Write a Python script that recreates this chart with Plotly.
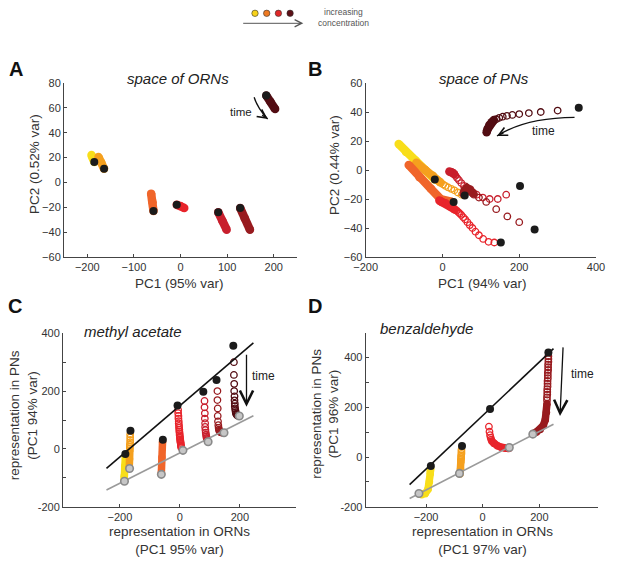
import plotly.graph_objects as go

FONT = "Liberation Sans, Arial, sans-serif"

# concentration colours, low -> high
YEL = "#F8DE1A"
ORA = "#F5A01E"
DOR = "#F0652A"
RED = "#E8242B"
CRM = "#C81F2D"
DRD = "#981B1F"
MAR = "#520C12"
legend_colors = ["#F7D21A", "#EE7A22", "#E02827", "#5C1016"]

# ---------- A: space of ORNs (PC1 vs PC2) ----------
a_yel_x = [-185, -188, -191]
a_yel_y = [16.5, 19.5, 22]
a_ora_x = [-164, -170, -176]
a_ora_y = [11, 16, 20.5]
a_dor_x = [-58, -60, -63]
a_dor_y = [-23, -16, -9]
a_red_x = [-8, 0, 8]
a_red_y = [-18, -19, -20.5]
a_crm_x = [81, 90, 99]
a_crm_y = [-24, -31, -38]
a_drd_x = [128, 138, 149]
a_drd_y = [-20.5, -29, -38]
a_mar_x = [184, 193, 203]
a_mar_y = [70, 65, 59]
a_start_x = [-185, -164, -58, -8, 81, 128, 184]
a_start_y = [16.5, 11, -23, -18, -24, -20.5, 70]

# ---------- B: space of PNs (PC1 vs PC2) ----------
b_yel_x = [-20, -45, -70, -95, -114]
b_yel_y = [-6.5, 0, 6.5, 12.5, 18]
b_ora_ring_x = [50, 40, 31, 23, 15, 8, 2, -4]
b_ora_ring_y = [-17, -15.5, -14, -13, -12, -11, -10, -9]
b_ora_x = [-6, -25, -45, -68]
b_ora_y = [-8.5, -4, 0, 5]
b_dor_x = [25, 10, -5, -30, -60, -88]
b_dor_y = [-22, -21.5, -20, -13, -5, 3.5]
b_red_ring_x = [135, 120, 106, 95, 86, 78, 71, 65, 59, 54, 49, 45, 41, 37, 33]
b_red_ring_y = [-50, -49.5, -47.5, -45, -42.5, -40, -38, -36, -34, -32.5, -31, -30, -29, -28, -27.5]
b_red_x = [31, 20, 8, -2, -8]
b_red_y = [-27, -25, -23, -22, -21]
b_crm_ring_x = [166, 144, 123, 105, 89, 76, 65, 56, 49, 43, 38, 34, 31]
b_crm_ring_y = [-17, -20, -20, -19, -17, -15, -13, -11, -9, -7, -5.5, -4, -3]
b_crm_x = [30, 24, 18]
b_crm_y = [-2.5, -1.5, -1]
b_drd_ring_x = [200, 169, 140, 114, 95, 82]
b_drd_ring_y = [-36, -32, -27, -22, -19, -17]
b_drd_x = [80, 72, 64, 58, 55]
b_drd_y = [-16, -13.5, -12.5, -14, -16.5]
b_mar_ring_x = [300, 256, 225, 200, 182, 168, 157, 148, 140]
b_mar_ring_y = [41, 40, 39.3, 38.6, 38, 37.4, 36.8, 36, 35]
b_mar_x = [134, 128, 122, 118, 115]
b_mar_y = [34.5, 33, 31, 28.5, 26]
b_start_x = [-20, 58, 29, 152, 202, 240, 355]
b_start_y = [-6.5, -17.5, -22, -50, -11, -41, 43]

# ---------- C: methyl acetate, ORN PC1 vs PN PC1 ----------
c_yel_x = [-182, -184, -186, -186]
c_yel_y = [-24, -60, -95, -108]
c_ora_ring_x = [-166, -166, -166, -166, -167, -167, -167]
c_ora_ring_y = [50, 40, 31, 23, 15, 8, 2]
c_ora_x = [-167, -168, -169]
c_ora_y = [-4, -35, -64]
c_dor_x = [-58, -60, -62]
c_dor_y = [25, -30, -84]
c_red_ring_x = [-6, -6, -5, -5, -4, -4, -3, -3, -2, -2, -1, -1, 0, 0, 1, 1, 2, 2, 3, 3, 4, 4]
c_red_ring_y = [135, 124, 114, 105, 96, 88, 80, 73, 66, 60, 54, 48, 43, 38, 33, 29, 25, 21, 17, 13, 9, 5]
c_crm_ring_x = [82, 82, 83, 83, 84, 84, 85, 86, 87, 88, 89, 90, 91]
c_crm_ring_y = [166, 144, 123, 105, 89, 76, 65, 56, 49, 43, 38, 34, 30]
c_drd_ring_x = [125, 125, 126, 126, 127, 128, 129, 130, 131, 133, 135, 138, 141]
c_drd_ring_y = [200, 169, 140, 114, 95, 82, 73, 67, 63, 60, 58, 57, 56]
c_mar_ring_x = [180, 180, 181, 181, 182, 182, 183, 183, 184, 185, 186, 187, 189, 192]
c_mar_ring_y = [300, 256, 225, 200, 182, 168, 157, 148, 140, 133, 127, 122, 118, 115]
c_start_x = [-182, -165, -57, -8, 78, 122, 178]
c_start_y = [-18, 63, 32, 150, 198, 238, 357]
c_end_x = [-185, -168, -62, 10, 94, 147, 198]
c_end_y = [-112, -68, -88, -5, 25, 56, 114]
c_fit_x = [-245, 245]
c_top_y = [-67, 367]
c_bot_y = [-142, 115]

# ---------- D: benzaldehyde, ORN PC1 vs PN PC1 ----------
d_yel_ring_x = [-184, -184, -185]
d_yel_ring_y = [-45, -52, -59]
d_yel_x = [-185, -188, -193, -203, -215, -224]
d_yel_y = [-66, -100, -130, -147, -152, -148]
d_ora_ring_x = [-75, -75, -75, -76, -76, -76, -77]
d_ora_ring_y = [28, 20, 13, 6, 0, -6, -12]
d_ora_x = [-77, -78, -80]
d_ora_y = [-18, -48, -68]
d_red_ring_x = [22, 24, 26, 28, 30]
d_red_ring_y = [122, 102, 88, 78, 70]
d_red_x = [32, 40, 52, 66, 80, 92]
d_red_y = [64, 54, 45, 39, 35, 34]
d_drd_ring_x = [232, 232, 232, 231, 231, 231, 230, 230, 230, 229, 229, 229, 228, 228, 228, 227, 227]
d_drd_ring_y = [405, 394, 383, 372, 361, 350, 339, 328, 317, 306, 295, 284, 273, 262, 251, 240, 229]
d_drd_x = [227, 225, 221, 214, 203, 190, 178]
d_drd_y = [215, 180, 150, 127, 111, 101, 94]
d_start_x = [-183, -73, 26, 232]
d_start_y = [-36, 44, 193, 420]
d_end_x = [-225, -82, 94, 177]
d_end_y = [-147, -66, 38, 92]
d_fit_x = [-258, 250]
d_top_y = [-111, 436]
d_bot_y = [-167, 132]

fig = go.Figure()


def band(xs, ys, color, ax, w=8.5):
    fig.add_trace(go.Scatter(x=xs, y=ys, mode="lines+markers",
                             line=dict(color=color, width=w),
                             marker=dict(color=color, size=w, line_width=0),
                             xaxis="x" + ax, yaxis="y" + ax, hoverinfo="skip"))


def rings(xs, ys, color, ax):
    fig.add_trace(go.Scatter(x=xs, y=ys, mode="markers",
                             marker=dict(symbol="circle-open", size=6.5, color=color,
                                         line=dict(width=1.3, color=color)),
                             xaxis="x" + ax, yaxis="y" + ax, hoverinfo="skip"))


def dots(xs, ys, ax, gray=False):
    if gray:
        mk = dict(size=7.5, color="#C6C6C6", line=dict(width=1.6, color="#8A8A8A"))
    else:
        mk = dict(size=8, color="#1B1B1B", line_width=0)
    fig.add_trace(go.Scatter(x=xs, y=ys, mode="markers", marker=mk,
                             xaxis="x" + ax, yaxis="y" + ax, hoverinfo="skip"))


def fit(xs, ys, color, ax):
    fig.add_trace(go.Scatter(x=xs, y=ys, mode="lines", line=dict(color=color, width=1.6),
                             xaxis="x" + ax, yaxis="y" + ax, hoverinfo="skip"))


# A
band(a_yel_x, a_yel_y, YEL, "")
band(a_ora_x, a_ora_y, ORA, "")
band(a_dor_x, a_dor_y, DOR, "")
band(a_red_x, a_red_y, RED, "")
band(a_crm_x, a_crm_y, CRM, "")
band(a_drd_x, a_drd_y, DRD, "")
band(a_mar_x, a_mar_y, MAR, "")
dots(a_start_x, a_start_y, "")

# B
band(b_yel_x, b_yel_y, YEL, "2")
rings(b_ora_ring_x, b_ora_ring_y, ORA, "2")
band(b_ora_x, b_ora_y, ORA, "2")
band(b_dor_x, b_dor_y, DOR, "2")
rings(b_red_ring_x, b_red_ring_y, RED, "2")
band(b_red_x, b_red_y, RED, "2")
rings(b_crm_ring_x, b_crm_ring_y, CRM, "2")
band(b_crm_x, b_crm_y, CRM, "2")
rings(b_drd_ring_x, b_drd_ring_y, DRD, "2")
band(b_drd_x, b_drd_y, DRD, "2")
rings(b_mar_ring_x, b_mar_ring_y, MAR, "2")
band(b_mar_x, b_mar_y, MAR, "2")
dots(b_start_x, b_start_y, "2")

# C
band(c_yel_x, c_yel_y, YEL, "3", 7.5)
rings(c_ora_ring_x, c_ora_ring_y, ORA, "3")
band(c_ora_x, c_ora_y, ORA, "3", 7.5)
band(c_dor_x, c_dor_y, DOR, "3", 7.5)
rings(c_red_ring_x, c_red_ring_y, RED, "3")
rings(c_crm_ring_x, c_crm_ring_y, CRM, "3")
rings(c_drd_ring_x, c_drd_ring_y, DRD, "3")
rings(c_mar_ring_x, c_mar_ring_y, MAR, "3")
fit(c_fit_x, c_top_y, "#111111", "3")
fit(c_fit_x, c_bot_y, "#9A9A9A", "3")
dots(c_start_x, c_start_y, "3")
dots(c_end_x, c_end_y, "3", gray=True)

# D
rings(d_yel_ring_x, d_yel_ring_y, YEL, "4")
band(d_yel_x, d_yel_y, YEL, "4", 7.5)
rings(d_ora_ring_x, d_ora_ring_y, ORA, "4")
band(d_ora_x, d_ora_y, ORA, "4", 7.5)
rings(d_red_ring_x, d_red_ring_y, RED, "4")
band(d_red_x, d_red_y, RED, "4", 7.5)
rings(d_drd_ring_x, d_drd_ring_y, DRD, "4")
band(d_drd_x, d_drd_y, DRD, "4", 7.5)
fit(d_fit_x, d_top_y, "#111111", "4")
fit(d_fit_x, d_bot_y, "#9A9A9A", "4")
dots(d_start_x, d_start_y, "4")
dots(d_end_x, d_end_y, "4", gray=True)

axis = dict(showline=True, linecolor="#444", linewidth=1, ticks="inside", ticklen=3,
            tickcolor="#444", showgrid=False, zeroline=False, automargin=False,
            tickfont=dict(family=FONT, size=11, color="#333"))

fig.update_layout(
    template="none",
    width=617, height=567, margin=dict(l=0, r=0, t=0, b=0, pad=0, autoexpand=False),
    paper_bgcolor="white", plot_bgcolor="white", showlegend=False,
    font=dict(family=FONT, color="#333"),
    xaxis=dict(axis, domain=[0.1037, 0.4814], range=[-250, 250], anchor="y",
               tickvals=[-200, -100, 0, 100, 200]),
    yaxis=dict(axis, domain=[0.5467, 0.8536], range=[-60, 80], anchor="x",
               tickvals=[-60, -40, -20, 0, 20, 40, 60, 80]),
    xaxis2=dict(axis, domain=[0.5927, 0.9660], range=[-200, 400], anchor="y2",
                tickvals=[-200, 0, 200, 400]),
    yaxis2=dict(axis, domain=[0.5467, 0.8536], range=[-60, 60], anchor="x2",
                tickvals=[-60, -40, -20, 0, 20, 40, 60]),
    xaxis3=dict(axis, domain=[0.1021, 0.4797], range=[-390, 387], anchor="y3",
                tickvals=[-200, 0, 200]),
    yaxis3=dict(axis, domain=[0.1063, 0.4122], range=[-200, 400], anchor="x3",
                tickvals=[-200, -100, 0, 100, 200, 300, 400],
                ticktext=["-200", "", "0", "", "200", "", "400"]),
    xaxis4=dict(axis, domain=[0.5927, 0.9687], range=[-413, 406], anchor="y4",
                tickvals=[-200, 0, 200]),
    yaxis4=dict(axis, domain=[0.1063, 0.4132], range=[-200, 500], anchor="x4",
                tickvals=[-200, -100, 0, 100, 200, 300, 400, 500],
                ticktext=["-200", "", "0", "", "200", "", "400", ""]),
)

# curved "time" arrows in A and B
fig.add_shape(type="path", path="M 158,68.5 Q 165,60 187,51", xref="x", yref="y",
              line=dict(color="#111", width=1.3))
fig.add_shape(type="path", path="M 344,36.3 Q 215,36 142,23.4", xref="x2", yref="y2",
              line=dict(color="#111", width=1.3))

# legend dots
for i, c in enumerate(legend_colors):
    cx = (255 + 11.7 * i) / 617
    fig.add_shape(type="circle", xref="paper", yref="paper",
                  x0=cx - 3.2 / 617, x1=cx + 3.2 / 617,
                  y0=1 - 16.5 / 567, y1=1 - 10.1 / 567,
                  fillcolor=c, line=dict(color="#333", width=0.6))

anns = []


def txt(x, y, s, size=13.5, **kw):
    d = dict(x=x, y=y, xref="paper", yref="paper", text=s, showarrow=False,
             xanchor="center", yanchor="middle",
             font=dict(family=FONT, size=size, color=kw.pop("color", "#333")))
    d.update(kw)
    anns.append(d)


def arrow(x, y, ax, ay, ref, size=1.2, head=5, axref="pixel"):
    d = dict(x=x, y=y, ax=ax, ay=ay, xref="x" + ref, yref="y" + ref, text="",
             showarrow=True, arrowhead=head, arrowsize=size, arrowwidth=1.3,
             arrowcolor="#111")
    if axref != "pixel":
        d.update(axref="x" + ref, ayref="y" + ref)
    anns.append(d)


# panel letters
for s, x, y in [("A", 16, 69), ("B", 315, 69), ("C", 15, 306), ("D", 315, 306)]:
    txt(x / 617, 1 - y / 567, "<b>%s</b>" % s, size=20, color="#111")

# titles
txt(0.2877, 0.8624, "<i>space of ORNs</i>", size=15, color="#222")
txt(0.7844, 0.8624, "<i>space of PNs</i>", size=15, color="#222")
txt(0.1329, 0.4145, "<i>methyl acetate</i>", size=15, color="#222", xanchor="left")
txt(0.6126, 0.4198, "<i>benzaldehyde</i>", size=15, color="#222", xanchor="left")

# axis labels
txt(0.2917, 1 - 283 / 567, "PC1 (95% var)")
txt(0.0559, 0.7116, "PC2 (0.52% var)", textangle=-90)
txt(0.7823, 1 - 283 / 567, "PC1 (94% var)")
txt(0.5429, 0.7090, "PC2 (0.44% var)", textangle=-90)
txt(0.2917, 0.0467, "representation in ORNs<br>(PC1 95% var)")
txt(0.0377, 0.2680, "representation in PNs<br>(PC1 94% var)", textangle=-90)
txt(0.7812, 0.0467, "representation in ORNs<br>(PC1 97% var)")
txt(0.5273, 0.2707, "representation in PNs<br>(PC1 96% var)", textangle=-90)

# "time" labels and arrows
txt(0.3906, 0.8025, "time", size=11.5, color="#222")
txt(0.8809, 0.7690, "time", size=12, color="#222")
txt(0.4263, 0.3369, "time", size=12, color="#222")
txt(0.9433, 0.3404, "time", size=12, color="#222")
arrow(187, 51, -7, -5, "", size=1.3)
arrow(142, 23.4, 8, -4, "2", size=1.3)
arrow(222, 146, 222, 331, "3", size=2, axref="data")
arrow(273, 165, 284, 447, "4", size=2, axref="data")

# legend arrow + text
anns.append(dict(x=303.3 / 617, y=1 - 23.3 / 567, ax=-61.6, ay=0, xref="paper", yref="paper",
                 text="", showarrow=True, arrowhead=5, arrowsize=1.4, arrowwidth=1,
                 arrowcolor="#555"))
txt(0.5575, 0.9794, "increasing", size=8.5, color="#555")
txt(0.5575, 0.9589, "concentration", size=8.5, color="#555")

fig.update_layout(annotations=anns)
fig.write_html("out.html", config={"displayModeBar": False},
               post_script="document.body.style.margin='0';")
